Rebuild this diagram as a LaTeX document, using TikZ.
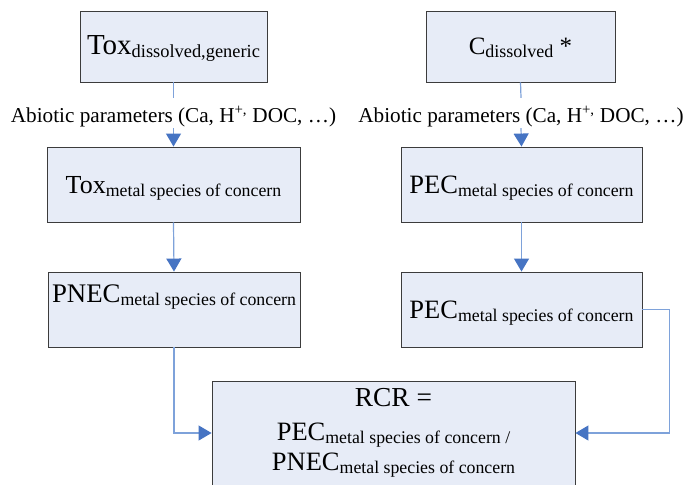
\documentclass[tikz,border=0pt]{standalone}
\usepackage{fontspec}
\setmainfont{Liberation Serif}
\usetikzlibrary{arrows.meta}
\definecolor{boxfill}{HTML}{E7ECF7}
\definecolor{boxline}{HTML}{3C3C3C}
\definecolor{conline}{HTML}{7EA2DA}
\definecolor{conhead}{HTML}{4674C3}
\newcommand{\fs}[1]{\fontsize{#1}{#1}\selectfont}
\newcommand{\sbx}[2][17.8]{\raisebox{-3pt}{\fs{#1}#2}}
\begin{document}
\begin{tikzpicture}[x=1pt,y=-1pt,
 boxbase/.style={draw=boxline,fill=boxfill,line width=0.9pt,inner sep=0pt},
 box/.style={boxbase,text height=22pt,text depth=5pt},
 con/.style={draw=conline,line width=1.2pt},
 arr/.style={con,-{Triangle[width=15pt,length=13pt,color=conhead]}},
 param/.style={inner sep=0pt,text height=24pt,text depth=6pt,font=\fs{21.2},anchor=base}]
\useasboundingbox (0,0) rectangle (684,484);
\clip (0,0) rectangle (684,484);
\fill[white] (0,0) rectangle (684,484);
% left column
\node[box,minimum width=187pt,minimum height=71pt] (b1) at (173.5,46.5)
  {\fs{29}Tox\sbx[18.4]{dissolved,generic}};
\node[param] (p1) at (173.5,122) {Abiotic parameters (Ca, H\textsuperscript{+,} DOC, \dots)};
\node[box,minimum width=253pt,minimum height=75pt] (b2) at (173.5,184.5)
  {\fs{26}Tox\sbx{metal species of concern}};
\node[boxbase,text height=22pt,text depth=37pt,minimum width=252pt,minimum height=75pt] (b5) at (174,309.5)
  {\fs{26.8}PNEC\sbx{metal species of concern}};
% right column
\node[box,minimum width=189pt,minimum height=71pt] (b3) at (520.5,46.5)
  {\fs{25}C\sbx[18]{dissolved} *};
\node[param] (p2) at (521,122) {Abiotic parameters (Ca, H\textsuperscript{+,} DOC, \dots)};
\node[box,minimum width=241pt,minimum height=75pt] (b4) at (521.5,184.5)
  {\fs{26.5}PEC\sbx{metal species of concern}};
\node[box,minimum width=241pt,minimum height=75pt] (b6) at (521.5,309.5)
  {\fs{26.5}PEC\sbx{metal species of concern}};
% result box
\node[boxbase,align=center,minimum width=363pt,minimum height=104pt,font=\fontsize{26.5}{32}\selectfont] (b7) at (393.5,433)
  {{\fontsize{27.4}{32}\selectfont RCR =}\\[2pt]
   PEC\sbx{metal species of concern /}\\[-2pt]
   PNEC\sbx{metal species of concern}};
% connectors
\draw[con] (b1.south) -- (p1.north);
\draw[arr] (p1.south) -- (b2.north);
\draw[arr] (b2.south) -- (b5.north);
\draw[con] (b3.south) -- (p2.north);
\draw[arr] (p2.south) -- (b4.north);
\draw[arr] (b4.south) -- (b6.north);
\draw[arr] (b5.south) |- (b7.west);
\draw[arr] (b6.east) -- ++(27,0) |- (b7.east);
\end{tikzpicture}
\end{document}
